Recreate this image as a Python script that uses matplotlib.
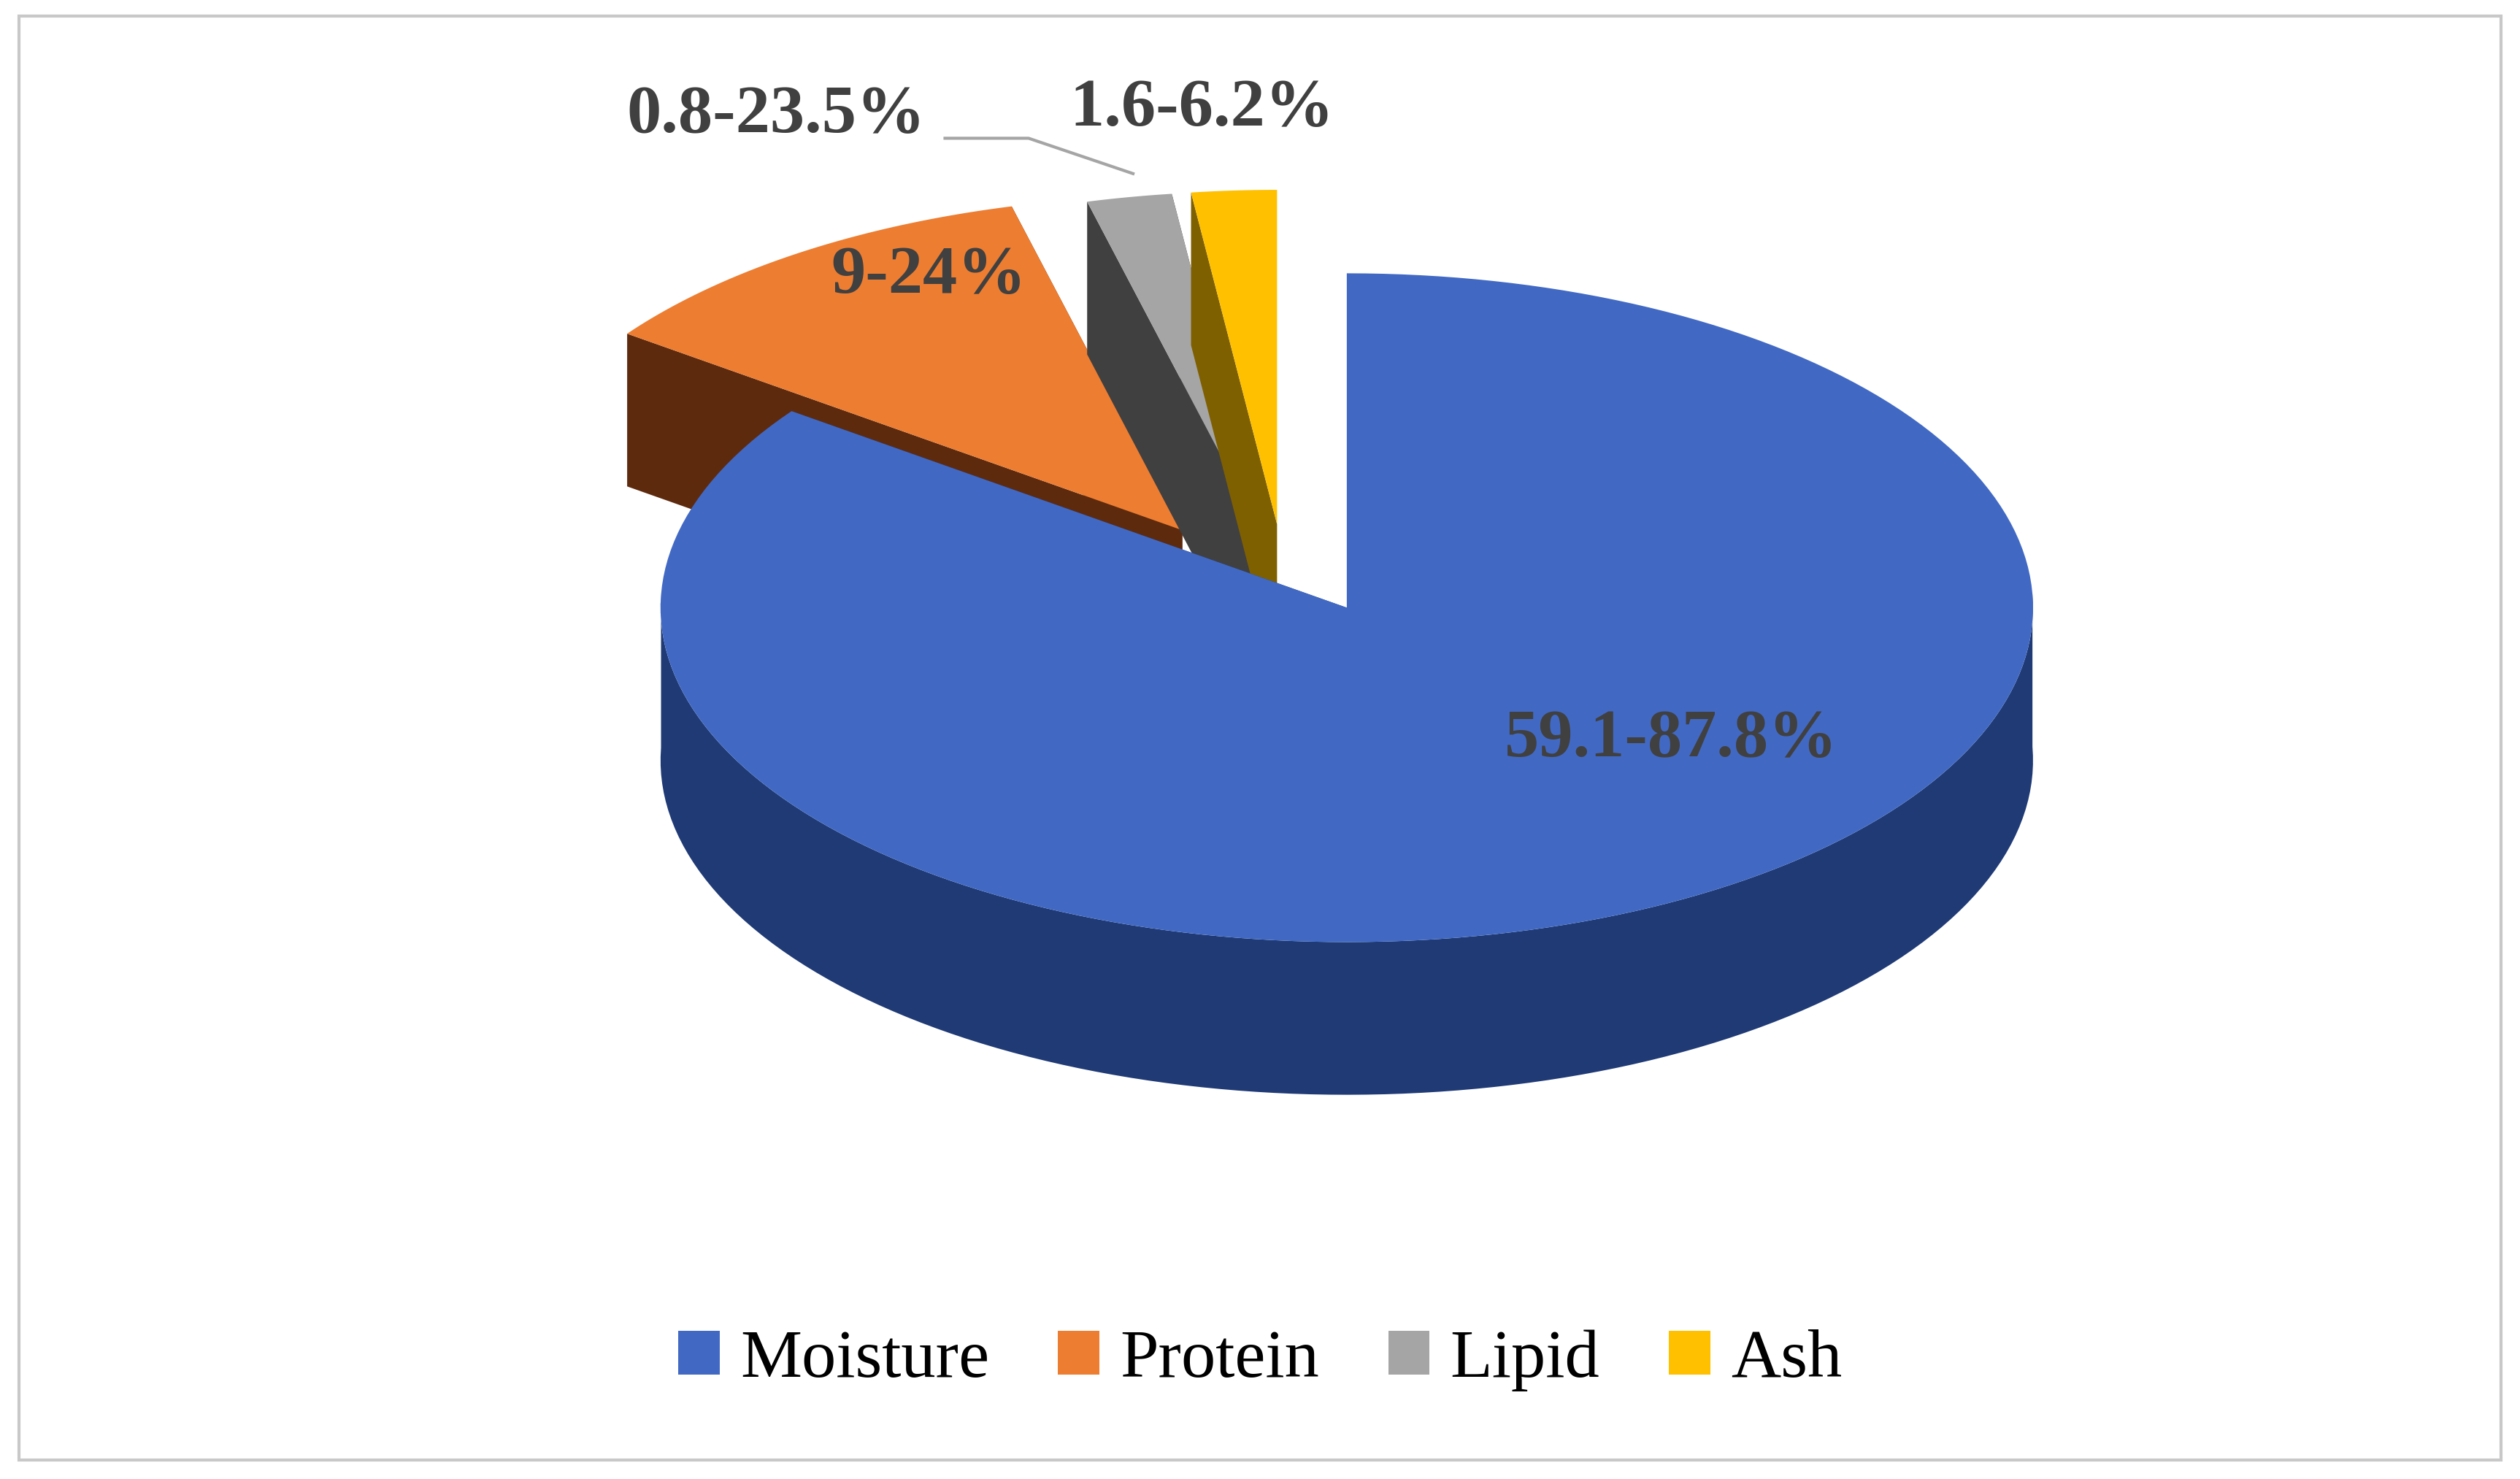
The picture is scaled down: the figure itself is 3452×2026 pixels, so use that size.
import numpy as np
import matplotlib.pyplot as plt
from matplotlib.patches import Polygon, Rectangle, Patch

labels = ['Moisture', 'Protein', 'Lipid', 'Ash']
shares = [85.0, 11.0, 2.0, 2.0]
range_text = ['59.1-87.8%', '9-24%', '0.8-23.5%', '1.6-6.2%']
top_colors = ['#4169C4', '#ED7D31', '#A5A5A5', '#FFC000']
side_colors = ['#1F3A75', '#5E2A0E', '#404040', '#7F6000']
explode = [0.0, 0.28, 0.25, 0.25]

W, H = 1568, 920
cx, cy, rx, ry, depth = 838, 378, 427, 208, 95

fig = plt.figure(figsize=(17.26, 10.13), dpi=200)
ax = fig.add_axes([0, 0, 1, 1])
ax.set_xlim(0, W)
ax.set_ylim(H, 0)
ax.axis('off')
ax.add_patch(Rectangle((12, 10), W - 24, H - 22, fill=False, ec='#C8C8C8', lw=1.5))

def pt(th, ox, oy, dz=0):
    return (ox + rx * np.cos(th), oy - ry * np.sin(th) + dz)

frac = np.cumsum([0] + shares) / sum(shares)
slices = []
for i in range(len(shares)):
    a0 = np.pi / 2 - 2 * np.pi * frac[i]
    a1 = np.pi / 2 - 2 * np.pi * frac[i + 1]
    mid = (a0 + a1) / 2
    ox = cx + explode[i] * rx * (np.cos(mid) * 0.9 - 0.35 * (explode[i] > 0))
    oy = cy - explode[i] * ry * np.sin(mid) * 1.0
    slices.append((a0, a1, ox, oy))

order = [1, 2, 3, 0]
for i in order:
    a0, a1, ox, oy = slices[i]
    th = np.linspace(a0, a1, 200)
    # radial walls
    for a in (a0, a1):
        p = pt(a, ox, oy)
        ax.add_patch(Polygon([(ox, oy), p, (p[0], p[1] + depth), (ox, oy + depth)],
                             closed=True, fc=side_colors[i], ec='none'))
    # outer side
    front = th[np.sin(th) < 0.05]
    if len(front) > 1:
        top = [pt(t, ox, oy) for t in front]
        bot = [pt(t, ox, oy, depth) for t in front[::-1]]
        ax.add_patch(Polygon(top + bot, closed=True, fc=side_colors[i], ec='none'))
    # top face
    face = [(ox, oy)] + [pt(t, ox, oy) for t in th]
    ax.add_patch(Polygon(face, closed=True, fc=top_colors[i], ec='none'))

lab_pos = [(1040, 460), (578, 172), (483, 72), (748, 68)]
for (x, y), t in zip(lab_pos, range_text):
    ax.text(x, y, t, ha='center', va='center', fontsize=34, fontweight='bold',
            family='Liberation Serif', color='#404040')
ax.plot([588, 640, 705], [86, 86, 108], color='#A5A5A5', lw=1.5)

handles = [Patch(fc=c, ec='none') for c in top_colors]
fig.legend(handles, labels, loc='center', bbox_to_anchor=(0.5, 0.08), ncol=4, frameon=False,
           prop={'family': 'Liberation Serif', 'size': 34}, handlelength=0.6, handleheight=0.6,
           columnspacing=1.0, handletextpad=0.3)

fig.savefig('out.png', dpi=200)
